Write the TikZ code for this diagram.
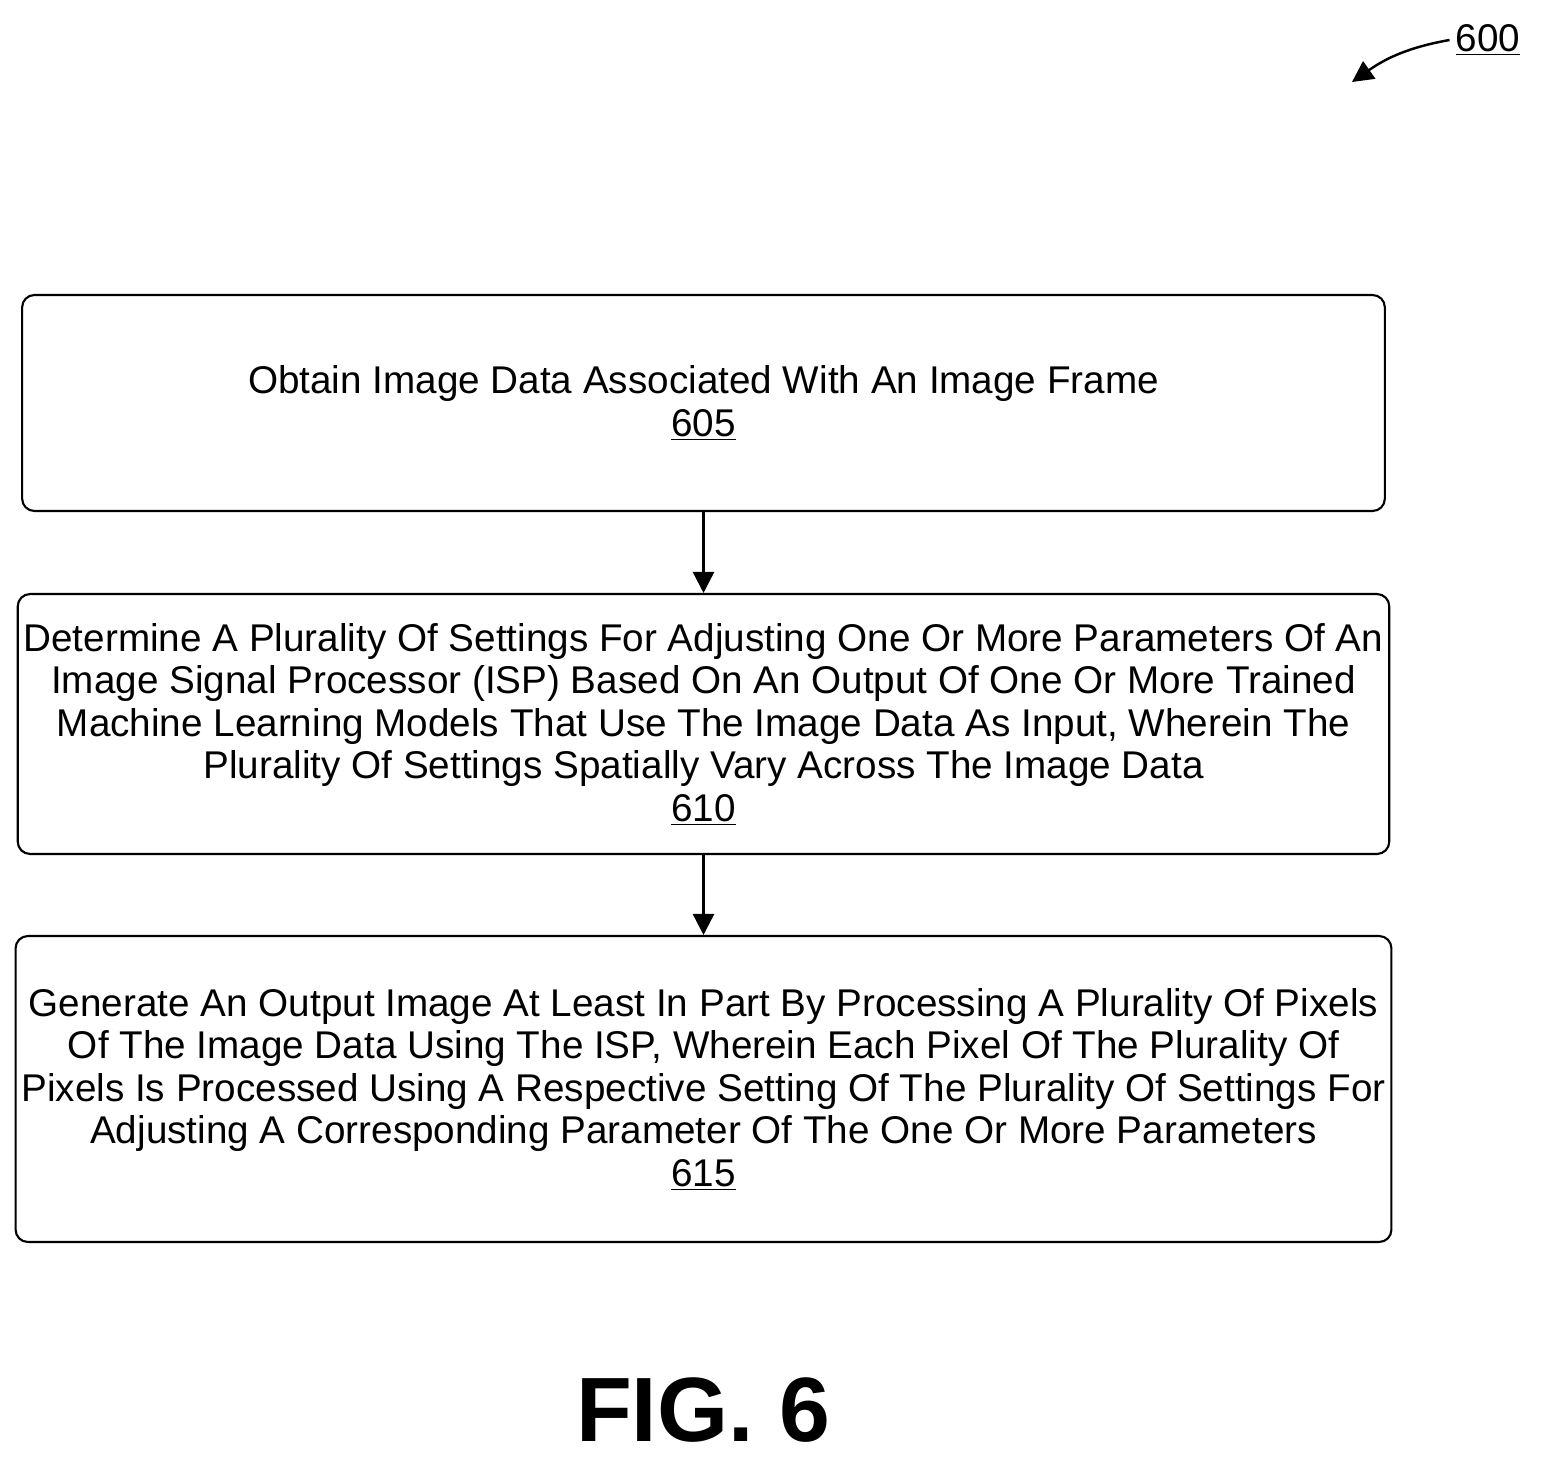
\documentclass[tikz,border=0pt]{standalone}
\usepackage{fontspec}
\setmainfont{Liberation Sans}
\usetikzlibrary{positioning,arrows.meta}
\begin{document}
\begin{tikzpicture}[x=0.02cm,y=-0.02cm,
    stepbox/.style={draw=black,line width=1.2pt,rounded corners=7pt,minimum width=27.26cm,align=center,
                 font=\fontsize{22}{24.2}\selectfont},
    flow/.style={-{Triangle[length=12pt,width=12pt]},line width=1.4pt}]
    \useasboundingbox (0,0) rectangle (1542,1464);
    \node[stepbox,minimum height=4.32cm] (s605) at (703.5,403) {Obtain Image Data Associated With An Image Frame\\\underline{605}};
    \node[stepbox,minimum height=5.2cm] (s610) at (703.5,724) {Determine A Plurality Of Settings For Adjusting One Or More Parameters Of An\\Image Signal Processor (ISP) Based On An Output Of One Or More Trained\\Machine Learning Models That Use The Image Data As Input, Wherein The\\Plurality Of Settings Spatially Vary Across The Image Data\\\underline{610}};
    \node[stepbox,minimum height=6.12cm] (s615) at (703.5,1089) {Generate An Output Image At Least In Part By Processing A Plurality Of Pixels\\Of The Image Data Using The ISP, Wherein Each Pixel Of The Plurality Of\\Pixels Is Processed Using A Respective Setting Of The Plurality Of Settings For\\Adjusting A Corresponding Parameter Of The One Or More Parameters\\\underline{615}};
    \draw[flow] (s605) -- (s610);
    \draw[flow] (s610) -- (s615);

    % reference number and figure title
    \node[font=\fontsize{22}{24}\selectfont] (ref) at (1488,40) {\underline{600}};
    \coordinate (refend) at (1352,82);
    \draw[flow] (ref.west) to[out=190,in=35] (refend);
    \node[font=\fontsize{52}{56}\bfseries\selectfont] (fig) at (703,1410) {FIG. 6};
\end{tikzpicture}
\end{document}
